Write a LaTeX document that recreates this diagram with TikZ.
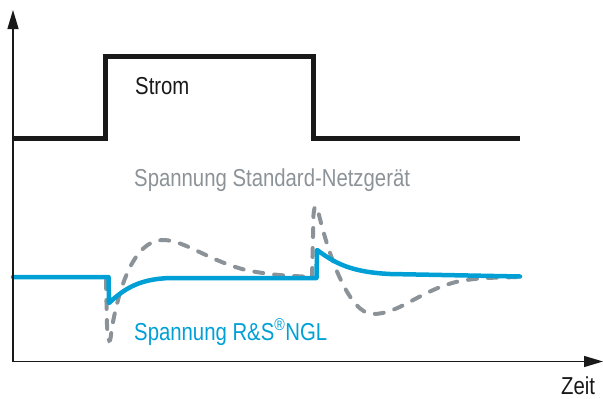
\documentclass[tikz,border=0pt]{standalone}
\usepackage{fontspec}
\setmainfont{Liberation Sans}[FakeStretch=0.83]
\usetikzlibrary{arrows.meta}
\definecolor{rsblue}{RGB}{0,160,214}
\definecolor{rsgray}{RGB}{140,147,152}
\definecolor{rsblack}{RGB}{25,25,25}
\tikzset{
  axisline/.style={line width=1.3pt, rsblack, -{Triangle[length=19pt,width=11pt]}},
  stromline/.style={line width=5pt, rsblack, line join=miter},
  stdline/.style={line width=4pt, rsgray, line cap=round, dash pattern=on 9pt off 11pt},
  ngline/.style={line width=4.5pt, rsblue, line cap=round, line join=round},
  lbl/.style={anchor=base west, inner sep=0pt, font=\fontsize{24.5pt}{26pt}\selectfont}
}
\begin{document}
\begin{tikzpicture}[x=1pt,y=-1pt]
\useasboundingbox (0,0) rectangle (603,399);
% Strom
\draw[stromline] (13,138.5) -- (105.5,138.5) -- (105.5,56.5) -- (313.5,56.5) -- (313.5,138.5) -- (520,138.5);
% Standard-Netzgeraet (dashed)
\draw[stdline] (106,280) -- (107,325) .. controls (108,345) and (110.5,345) .. (111.5,330)
  .. controls (122,270) and (140,240) .. (163,240)
  .. controls (185,240) and (210,262) .. (250,271)
  .. controls (275,275) .. (312,277);
\draw[stdline] (312,277) -- (313.5,215) .. controls (314.5,203) and (317,204) .. (319,215)
  .. controls (330,260) and (350,314) .. (373,314)
  .. controls (400,314) and (420,290) .. (460,281)
  .. controls (480,278) .. (520,277);
% R&S NGL (blue)
\draw[ngline] (13,277) -- (108.5,277) -- (109,303)
  .. controls (125,288) and (140,279) .. (170,278) -- (316.5,278) -- (317,250)
  .. controls (335,263) and (350,272) .. (390,274) -- (520,276.5);
% axes
\coordinate (o) at (13,361.5);
\coordinate (ytip) at (13,10);
\coordinate (xtip) at (603,361.5);
\draw[axisline] (o) -- (ytip);
\draw[axisline] (o) -- (xtip);
% labels
\node[lbl, rsblack] (strom) at (135,94) {Strom};
\node[lbl, rsgray] (std) at (134,186) {Spannung Standard-Netzgerät};
\node[lbl, rsblue] (ngl) at (134,340) {Spannung R\&S\textsuperscript{®}NGL};
\node[lbl, rsblack] (zeit) at (561,394) {Zeit};
\end{tikzpicture}
\end{document}
